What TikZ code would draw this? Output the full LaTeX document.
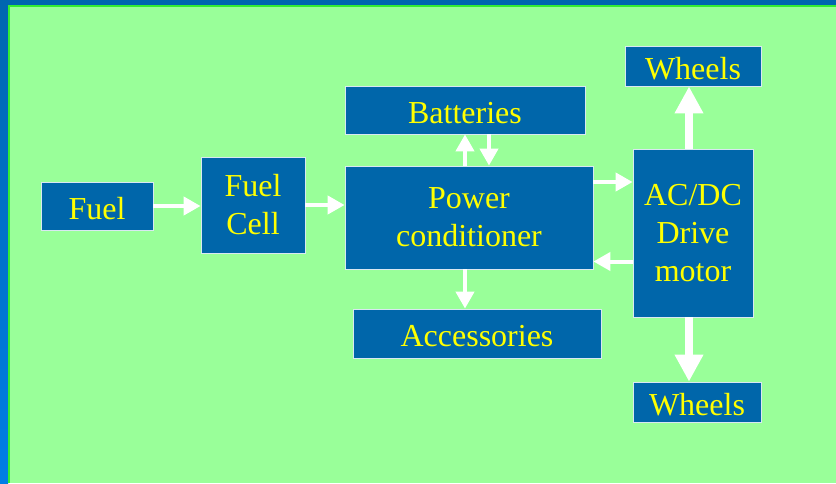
\documentclass[tikz,border=0pt]{standalone}
\usepackage{fontspec}
\setmainfont{Liberation Serif}
\usepackage{xcolor}
\usepackage{tikz}
\usetikzlibrary{arrows.meta, positioning, calc}

\definecolor{slideblue}{HTML}{0066B0}
\definecolor{slidegreen}{HTML}{99FF99}
\definecolor{edgegreen}{HTML}{33EE33}
\definecolor{boxblue}{HTML}{0066AA}
\definecolor{textyellow}{HTML}{FFFF00}

\begin{document}
\begin{tikzpicture}[x=1pt, y=-1pt,
    box/.style={draw=white!85!boxblue, line width=0.8pt, fill=boxblue, text=textyellow,
        align=center, inner sep=0pt, font=\fontsize{32}{38}\selectfont,
        execute at begin node={\rule{0pt}{27pt}}},
    link/.style={white, line width=4pt, -{Triangle[width=18pt,length=17pt]}},
    biglink/.style={white, line width=8pt, -{Triangle[width=27pt,length=27pt]}}]
    \useasboundingbox (0,0) rectangle (836,483);

    % Slide frame
    \fill[slideblue] (0,0) rectangle (836,483);
    \shade[top color=slideblue, bottom color=blue!45!cyan!90!black] (0,0) rectangle (8,483);
    \fill[slidegreen] (8,5) rectangle (836,483);
    \draw[edgegreen, line width=1.2pt] (9,483) -- (9,6) -- (836,6);

    % Blocks
    \node[box, minimum width=112pt, minimum height=48pt] (fuel) at (97,206) {Fuel};
    \node[box, minimum width=104pt, minimum height=96pt] (cell) at (253,205) {Fuel\\Cell};
    \node[box, minimum width=248pt, minimum height=103pt] (power) at (469,217.5) {Power\\conditioner};
    \node[box, minimum width=240pt, minimum height=48pt] (batt) at (465,110) {Batteries};
    \node[box, minimum width=248pt, minimum height=49pt] (acc) at (477,333.5) {Accessories};
    \node[box, minimum width=120pt, minimum height=168pt] (motor) at (693,233) {AC/DC\\Drive\\motor};
    \node[box, minimum width=136pt, minimum height=40pt] (wheelsT) at (693,66) {Wheels};
    \node[box, minimum width=128pt, minimum height=40pt] (wheelsB) at (697,402) {Wheels};

    % Flow
    \draw[link] (fuel.east) -- (fuel.east -| cell.west);
    \draw[link] (cell.east) -- (cell.east -| power.west);
    \draw[link] ([yshift=35.5pt]power.east) -- ([yshift=35.5pt]power.east -| motor.west);
    \draw[link] ([yshift=-28.5pt]motor.west) -- ([yshift=-28.5pt]motor.west -| power.east);
    \draw[link] (batt.south |- power.north) -- (batt.south);
    \draw[link] ([xshift=24pt]batt.south) -- ([xshift=24pt]batt.south |- power.north);
    \draw[link] ([xshift=-4pt]power.south) -- ([xshift=-4pt]power.south |- acc.north);

    % Wheels
    \draw[biglink] ([xshift=-4pt]motor.north) -- ([xshift=-4pt]motor.north |- wheelsT.south);
    \draw[biglink] ([xshift=-4pt]motor.south) -- ([xshift=-4pt]motor.south |- wheelsB.north);
\end{tikzpicture}
\end{document}
